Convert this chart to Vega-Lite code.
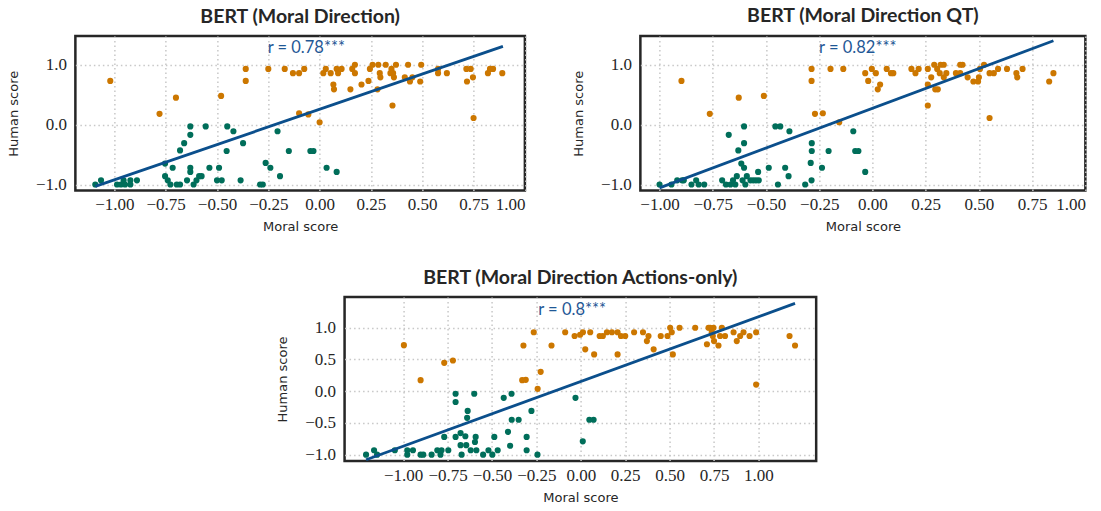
{
  "$schema": "https://vega.github.io/schema/vega-lite/v6.json",
  "background": "white",
  "padding": {"left": 6, "top": 4, "right": 0, "bottom": 0},
  "center": true,
  "spacing": 31,
  "config": {
    "view": {"stroke": "#262626", "strokeWidth": 2.5},
    "axis": {"grid": true, "gridColor": "#c8c8c8", "gridDash": [1.5, 3], "gridWidth": 1.5, "domain": false, "ticks": false, "labelFont": "Liberation Serif", "labelFontSize": 17, "labelColor": "#262626", "titleFont": "DejaVu Sans", "titleFontSize": 13, "titleFontWeight": "normal", "titleColor": "#262626"},
    "axisX": {"labelPadding": 6, "titlePadding": 8},
    "axisY": {"labelPadding": 9, "titlePadding": 15},
    "title": {"font": "Lato", "fontSize": 19.5, "fontWeight": "bold", "color": "#262626", "offset": 9}
  },
  "datasets": {
    "p1": [
      {"x": -1.02, "y": 0.73}, {"x": -0.78, "y": 0.18}, {"x": -0.70, "y": 0.45}, {"x": -0.48, "y": 0.48}, {"x": -0.36, "y": 0.93}, {"x": -0.36, "y": 0.73}, {"x": -0.25, "y": 0.93}, {"x": -0.17, "y": 0.93}, {"x": -0.13, "y": 0.86}, {"x": -0.10, "y": 0.86}, {"x": -0.075, "y": 0.93}, {"x": -0.10, "y": 0.19}, {"x": -0.055, "y": 0.17}, {"x": 0.0, "y": 0.04}, {"x": 0.018, "y": 0.86}, {"x": 0.03, "y": 0.93}, {"x": 0.054, "y": 0.86}, {"x": 0.083, "y": 0.93}, {"x": 0.09, "y": 0.86}, {"x": 0.107, "y": 0.93}, {"x": 0.067, "y": 0.67}, {"x": 0.07, "y": 0.59}, {"x": 0.15, "y": 0.59}, {"x": 0.159, "y": 0.93}, {"x": 0.172, "y": 1.0}, {"x": 0.172, "y": 0.86}, {"x": 0.204, "y": 0.67}, {"x": 0.238, "y": 0.73}, {"x": 0.245, "y": 0.93}, {"x": 0.258, "y": 1.0}, {"x": 0.286, "y": 1.0}, {"x": 0.282, "y": 0.59}, {"x": 0.293, "y": 0.86}, {"x": 0.296, "y": 0.79}, {"x": 0.322, "y": 1.0}, {"x": 0.345, "y": 0.86}, {"x": 0.35, "y": 0.93}, {"x": 0.358, "y": 0.86}, {"x": 0.362, "y": 0.79}, {"x": 0.355, "y": 0.32}, {"x": 0.372, "y": 1.0}, {"x": 0.431, "y": 1.0}, {"x": 0.415, "y": 0.79}, {"x": 0.44, "y": 0.72}, {"x": 0.452, "y": 0.79}, {"x": 0.49, "y": 0.72}, {"x": 0.495, "y": 1.0}, {"x": 0.577, "y": 0.86}, {"x": 0.577, "y": 0.93}, {"x": 0.62, "y": 0.86}, {"x": 0.715, "y": 0.93}, {"x": 0.736, "y": 0.93}, {"x": 0.718, "y": 0.72}, {"x": 0.747, "y": 0.79}, {"x": 0.75, "y": 0.11}, {"x": 0.82, "y": 0.86}, {"x": 0.83, "y": 0.93}, {"x": 0.845, "y": 0.93}, {"x": 0.89, "y": 0.86},
      {"x": -1.093, "y": -1.0}, {"x": -1.065, "y": -0.93}, {"x": -0.987, "y": -1.0}, {"x": -0.968, "y": -1.0}, {"x": -0.955, "y": -0.93}, {"x": -0.948, "y": -1.0}, {"x": -0.922, "y": -0.93}, {"x": -0.922, "y": -1.0}, {"x": -0.89, "y": -0.93}, {"x": -0.753, "y": -0.65}, {"x": -0.753, "y": -0.86}, {"x": -0.74, "y": -0.93}, {"x": -0.727, "y": -1.0}, {"x": -0.716, "y": -0.72}, {"x": -0.696, "y": -1.0}, {"x": -0.68, "y": -1.0}, {"x": -0.68, "y": -0.43}, {"x": -0.66, "y": -0.31}, {"x": -0.63, "y": -0.03}, {"x": -0.63, "y": -0.17}, {"x": -0.63, "y": -0.72}, {"x": -0.63, "y": -0.79}, {"x": -0.646, "y": -0.93}, {"x": -0.614, "y": -1.0}, {"x": -0.60, "y": -0.93}, {"x": -0.587, "y": -0.86}, {"x": -0.575, "y": -0.86}, {"x": -0.555, "y": -0.03}, {"x": -0.537, "y": -0.72}, {"x": -0.50, "y": -0.93}, {"x": -0.49, "y": -0.72}, {"x": -0.477, "y": -0.93}, {"x": -0.453, "y": -0.44}, {"x": -0.45, "y": -0.03}, {"x": -0.42, "y": -0.11}, {"x": -0.373, "y": -0.31}, {"x": -0.385, "y": -0.93}, {"x": -0.29, "y": -1.0}, {"x": -0.277, "y": -1.0}, {"x": -0.263, "y": -0.64}, {"x": -0.24, "y": -0.72}, {"x": -0.205, "y": -0.11}, {"x": -0.193, "y": -0.86}, {"x": -0.15, "y": -0.44}, {"x": -0.045, "y": -0.44}, {"x": -0.03, "y": -0.44}, {"x": 0.034, "y": -0.72}, {"x": 0.083, "y": -0.79}
    ],
    "p2": [
      {"x": -0.897, "y": 0.73}, {"x": -0.764, "y": 0.18}, {"x": -0.628, "y": 0.45}, {"x": -0.51, "y": 0.48}, {"x": -0.286, "y": 0.93}, {"x": -0.286, "y": 0.73}, {"x": -0.27, "y": 0.18}, {"x": -0.233, "y": 0.19}, {"x": -0.197, "y": 0.93}, {"x": -0.156, "y": 0.04}, {"x": -0.137, "y": 0.93}, {"x": -0.034, "y": 0.86}, {"x": -0.02, "y": 0.73}, {"x": -0.003, "y": 0.93}, {"x": 0.016, "y": 0.86}, {"x": 0.025, "y": 0.59}, {"x": 0.036, "y": 0.67}, {"x": 0.067, "y": 0.93}, {"x": 0.087, "y": 0.86}, {"x": 0.098, "y": 0.86}, {"x": 0.183, "y": 0.93}, {"x": 0.202, "y": 0.86}, {"x": 0.217, "y": 0.93}, {"x": 0.26, "y": 0.93}, {"x": 0.276, "y": 0.79}, {"x": 0.26, "y": 0.67}, {"x": 0.26, "y": 0.32}, {"x": 0.29, "y": 1.0}, {"x": 0.304, "y": 0.93}, {"x": 0.295, "y": 0.59}, {"x": 0.307, "y": 0.59}, {"x": 0.32, "y": 1.0}, {"x": 0.335, "y": 1.0}, {"x": 0.316, "y": 0.86}, {"x": 0.335, "y": 0.79}, {"x": 0.347, "y": 0.86}, {"x": 0.392, "y": 0.86}, {"x": 0.412, "y": 1.0}, {"x": 0.423, "y": 1.0}, {"x": 0.412, "y": 0.86}, {"x": 0.447, "y": 0.79}, {"x": 0.474, "y": 0.72}, {"x": 0.496, "y": 0.72}, {"x": 0.5, "y": 0.79}, {"x": 0.505, "y": 0.93}, {"x": 0.524, "y": 1.0}, {"x": 0.55, "y": 0.86}, {"x": 0.57, "y": 0.86}, {"x": 0.59, "y": 0.93}, {"x": 0.55, "y": 0.11}, {"x": 0.632, "y": 0.93}, {"x": 0.676, "y": 0.86}, {"x": 0.68, "y": 0.79}, {"x": 0.705, "y": 0.93}, {"x": 0.83, "y": 0.72}, {"x": 0.85, "y": 0.86},
      {"x": -1.0, "y": -1.0}, {"x": -0.944, "y": -1.0}, {"x": -0.917, "y": -0.93}, {"x": -0.894, "y": -0.93}, {"x": -0.886, "y": -0.93}, {"x": -0.85, "y": -1.0}, {"x": -0.828, "y": -0.93}, {"x": -0.816, "y": -1.0}, {"x": -0.79, "y": -1.0}, {"x": -0.706, "y": -0.93}, {"x": -0.688, "y": -1.0}, {"x": -0.675, "y": -0.17}, {"x": -0.667, "y": -1.0}, {"x": -0.655, "y": -0.93}, {"x": -0.644, "y": -1.0}, {"x": -0.637, "y": -0.86}, {"x": -0.63, "y": -0.43}, {"x": -0.616, "y": -0.65}, {"x": -0.603, "y": -0.03}, {"x": -0.603, "y": -0.31}, {"x": -0.603, "y": -0.72}, {"x": -0.597, "y": -1.0}, {"x": -0.61, "y": -0.93}, {"x": -0.59, "y": -0.86}, {"x": -0.573, "y": -0.93}, {"x": -0.56, "y": -0.93}, {"x": -0.547, "y": -0.93}, {"x": -0.534, "y": -0.93}, {"x": -0.537, "y": -0.79}, {"x": -0.487, "y": -0.72}, {"x": -0.456, "y": -0.03}, {"x": -0.433, "y": -0.03}, {"x": -0.444, "y": -1.0}, {"x": -0.41, "y": -0.72}, {"x": -0.394, "y": -0.86}, {"x": -0.39, "y": -0.11}, {"x": -0.316, "y": -1.0}, {"x": -0.29, "y": -0.64}, {"x": -0.286, "y": -0.93}, {"x": -0.285, "y": -0.44}, {"x": -0.285, "y": -0.31}, {"x": -0.237, "y": -0.72}, {"x": -0.206, "y": -0.44}, {"x": -0.09, "y": -0.11}, {"x": -0.081, "y": -0.44}, {"x": -0.066, "y": -0.44}, {"x": -0.034, "y": -0.79}
    ],
    "p3": [
      {"x": -0.996, "y": 0.726}, {"x": -0.902, "y": 0.174}, {"x": -0.769, "y": 0.447}, {"x": -0.72, "y": 0.484}, {"x": -0.323, "y": 0.72}, {"x": -0.265, "y": 0.93}, {"x": -0.33, "y": 0.174}, {"x": -0.31, "y": 0.18}, {"x": -0.226, "y": 0.305}, {"x": -0.243, "y": 0.037}, {"x": -0.165, "y": 0.72}, {"x": -0.088, "y": 0.93}, {"x": -0.035, "y": 0.87}, {"x": -0.004, "y": 0.89}, {"x": 0.012, "y": 0.93}, {"x": 0.025, "y": 0.66}, {"x": 0.053, "y": 0.93}, {"x": 0.075, "y": 0.58}, {"x": 0.106, "y": 0.87}, {"x": 0.124, "y": 0.87}, {"x": 0.147, "y": 0.93}, {"x": 0.175, "y": 0.93}, {"x": 0.207, "y": 0.93}, {"x": 0.207, "y": 0.58}, {"x": 0.226, "y": 0.87}, {"x": 0.25, "y": 0.87}, {"x": 0.3, "y": 0.93}, {"x": 0.35, "y": 0.93}, {"x": 0.372, "y": 0.79}, {"x": 0.381, "y": 0.87}, {"x": 0.41, "y": 0.66}, {"x": 0.45, "y": 0.87}, {"x": 0.488, "y": 0.87}, {"x": 0.503, "y": 1.0}, {"x": 0.512, "y": 0.93}, {"x": 0.518, "y": 0.58}, {"x": 0.556, "y": 1.0}, {"x": 0.644, "y": 1.0}, {"x": 0.71, "y": 0.74}, {"x": 0.719, "y": 1.0}, {"x": 0.728, "y": 1.0}, {"x": 0.737, "y": 0.93}, {"x": 0.747, "y": 1.0}, {"x": 0.743, "y": 0.87}, {"x": 0.75, "y": 0.79}, {"x": 0.775, "y": 0.72}, {"x": 0.794, "y": 1.0}, {"x": 0.812, "y": 0.87}, {"x": 0.784, "y": 0.87}, {"x": 0.86, "y": 0.93}, {"x": 0.878, "y": 0.79}, {"x": 0.897, "y": 0.87}, {"x": 0.916, "y": 0.93}, {"x": 0.95, "y": 0.87}, {"x": 0.987, "y": 0.93}, {"x": 0.987, "y": 0.105}, {"x": 1.175, "y": 0.87}, {"x": 1.206, "y": 0.72},
      {"x": -1.209, "y": -1.0}, {"x": -1.164, "y": -0.93}, {"x": -1.147, "y": -1.0}, {"x": -1.047, "y": -0.93}, {"x": -0.977, "y": -0.93}, {"x": -0.977, "y": -1.0}, {"x": -0.945, "y": -0.93}, {"x": -0.902, "y": -1.0}, {"x": -0.887, "y": -1.0}, {"x": -0.84, "y": -1.0}, {"x": -0.808, "y": -0.93}, {"x": -0.79, "y": -1.0}, {"x": -0.784, "y": -0.93}, {"x": -0.746, "y": -0.93}, {"x": -0.769, "y": -0.72}, {"x": -0.705, "y": -0.04}, {"x": -0.705, "y": -0.17}, {"x": -0.705, "y": -0.72}, {"x": -0.677, "y": -0.66}, {"x": -0.677, "y": -0.85}, {"x": -0.671, "y": -1.0}, {"x": -0.65, "y": -0.71}, {"x": -0.645, "y": -0.85}, {"x": -0.637, "y": -0.31}, {"x": -0.64, "y": -0.42}, {"x": -0.62, "y": -0.93}, {"x": -0.60, "y": -0.04}, {"x": -0.592, "y": -0.72}, {"x": -0.596, "y": -0.8}, {"x": -0.588, "y": -0.93}, {"x": -0.55, "y": -1.0}, {"x": -0.52, "y": -0.93}, {"x": -0.487, "y": -0.72}, {"x": -0.468, "y": -0.93}, {"x": -0.498, "y": -1.0}, {"x": -0.434, "y": -0.105}, {"x": -0.39, "y": -0.04}, {"x": -0.41, "y": -0.64}, {"x": -0.398, "y": -0.86}, {"x": -0.389, "y": -0.45}, {"x": -0.35, "y": -0.45}, {"x": -0.305, "y": -0.72}, {"x": -0.305, "y": -0.93}, {"x": -0.278, "y": -0.31}, {"x": -0.244, "y": -1.0}, {"x": -0.03, "y": -0.105}, {"x": 0.011, "y": -0.79}, {"x": 0.048, "y": -0.45}, {"x": 0.072, "y": -0.45}
    ],
    "l1": [{"x": -1.093, "y": -1.03}, {"x": 0.893, "y": 1.306}],
    "l2": [{"x": -1.0, "y": -1.056}, {"x": 0.85, "y": 1.4}],
    "l3": [{"x": -1.209, "y": -1.08}, {"x": 1.206, "y": 1.384}],
    "t1": [{"x": -0.065, "y": 1.273, "label": "r = 0.78***"}],
    "t2": [{"x": -0.069, "y": 1.273, "label": "r = 0.82***"}],
    "t3": [{"x": -0.049, "y": 1.28, "label": "r = 0.8***"}]
  },
  "vconcat": [
    {
      "hconcat": [
        {
          "title": "BERT (Moral Direction)",
          "width": 449.5, "height": 154.5,
          "layer": [
            {"data": {"name": "p1"}, "mark": {"type": "circle", "size": 38, "opacity": 1},
             "encoding": {
               "x": {"field": "x", "type": "quantitative", "scale": {"domain": [-1.19, 1.0], "nice": false, "zero": false}, "axis": {"title": "Moral score", "values": [-1, -0.75, -0.5, -0.25, 0, 0.25, 0.5, 0.75, 1], "format": ".2f"}},
               "y": {"field": "y", "type": "quantitative", "scale": {"domain": [-1.1, 1.48], "nice": false, "zero": false}, "axis": {"title": "Human score", "values": [-1, -0.5, 0, 0.5, 1], "format": ".1f"}},
               "color": {"condition": {"test": "datum.y > 0", "value": "#cc7700"}, "value": "#006e5a"}
             }},
            {"data": {"name": "l1"}, "mark": {"type": "line", "color": "#0b4f8c", "strokeWidth": 2.8},
             "encoding": {"x": {"field": "x", "type": "quantitative"}, "y": {"field": "y", "type": "quantitative"}}},
            {"data": {"name": "t1"}, "mark": {"type": "text", "font": "Lato", "fontSize": 16.5, "color": "#1f5896", "baseline": "middle", "align": "center"},
             "encoding": {"x": {"field": "x", "type": "quantitative"}, "y": {"field": "y", "type": "quantitative"}, "text": {"field": "label"}}}
          ]
        },
        {
          "title": "BERT (Moral Direction QT)",
          "width": 445, "height": 154.5,
          "layer": [
            {"data": {"name": "p2"}, "mark": {"type": "circle", "size": 38, "opacity": 1},
             "encoding": {
               "x": {"field": "x", "type": "quantitative", "scale": {"domain": [-1.09, 1.0], "nice": false, "zero": false}, "axis": {"title": "Moral score", "values": [-1, -0.75, -0.5, -0.25, 0, 0.25, 0.5, 0.75, 1], "format": ".2f"}},
               "y": {"field": "y", "type": "quantitative", "scale": {"domain": [-1.1, 1.48], "nice": false, "zero": false}, "axis": {"title": "Human score", "values": [-1, -0.5, 0, 0.5, 1], "format": ".1f"}},
               "color": {"condition": {"test": "datum.y > 0", "value": "#cc7700"}, "value": "#006e5a"}
             }},
            {"data": {"name": "l2"}, "mark": {"type": "line", "color": "#0b4f8c", "strokeWidth": 2.8},
             "encoding": {"x": {"field": "x", "type": "quantitative"}, "y": {"field": "y", "type": "quantitative"}}},
            {"data": {"name": "t2"}, "mark": {"type": "text", "font": "Lato", "fontSize": 16.5, "color": "#1f5896", "baseline": "middle", "align": "center"},
             "encoding": {"x": {"field": "x", "type": "quantitative"}, "y": {"field": "y", "type": "quantitative"}, "text": {"field": "label"}}}
          ]
        }
      ],
      "spacing": 44
    },
    {
      "title": "BERT (Moral Direction Actions-only)",
      "width": 471.6, "height": 164,
      "layer": [
        {"data": {"name": "p3"}, "mark": {"type": "circle", "size": 38, "opacity": 1},
         "encoding": {
           "x": {"field": "x", "type": "quantitative", "scale": {"domain": [-1.33, 1.325], "nice": false, "zero": false}, "axis": {"title": "Moral score", "values": [-1, -0.75, -0.5, -0.25, 0, 0.25, 0.5, 0.75, 1], "format": ".2f"}},
           "y": {"field": "y", "type": "quantitative", "scale": {"domain": [-1.1, 1.485], "nice": false, "zero": false}, "axis": {"title": "Human score", "values": [-1, -0.5, 0, 0.5, 1], "format": ".1f"}},
           "color": {"condition": {"test": "datum.y > 0", "value": "#cc7700"}, "value": "#006e5a"}
         }},
        {"data": {"name": "l3"}, "mark": {"type": "line", "color": "#0b4f8c", "strokeWidth": 2.8},
         "encoding": {"x": {"field": "x", "type": "quantitative"}, "y": {"field": "y", "type": "quantitative"}}},
        {"data": {"name": "t3"}, "mark": {"type": "text", "font": "Lato", "fontSize": 16.5, "color": "#1f5896", "baseline": "middle", "align": "center"},
         "encoding": {"x": {"field": "x", "type": "quantitative"}, "y": {"field": "y", "type": "quantitative"}, "text": {"field": "label"}}}
      ]
    }
  ]
}
